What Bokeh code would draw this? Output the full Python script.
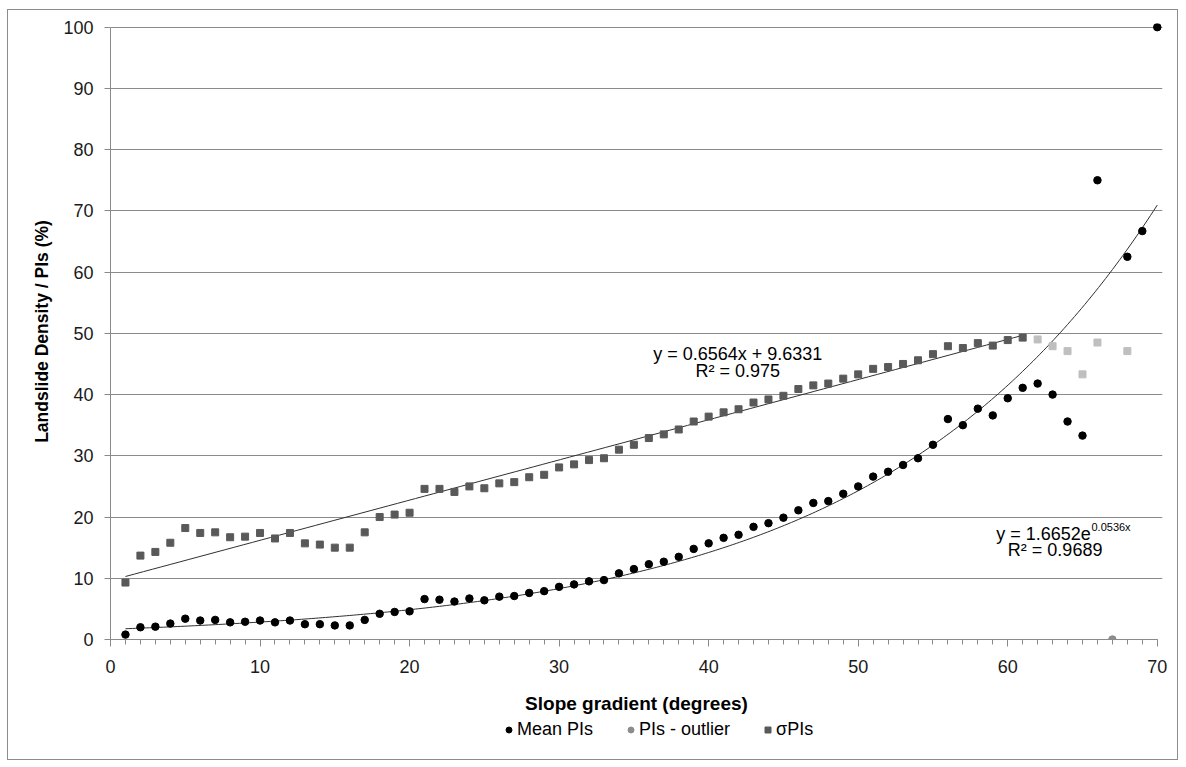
import numpy as np
from bokeh.plotting import figure
from bokeh.layouts import column
from bokeh.models import (ColumnDataSource, Legend, LegendItem, SingleIntervalTicker,
                          Range1d, Label)
from bokeh.embed import file_html
from bokeh.resources import INLINE

# ---- data ----
slope = list(range(1, 71))
mean_pis = [0.8, 2.0, 2.1, 2.6, 3.4, 3.1, 3.2, 2.8, 2.9, 3.1,
            2.8, 3.1, 2.5, 2.5, 2.3, 2.3, 3.2, 4.2, 4.5, 4.6,
            6.6, 6.5, 6.2, 6.7, 6.4, 7.0, 7.1, 7.6, 7.9, 8.6,
            9.0, 9.5, 9.7, 10.8, 11.5, 12.3, 12.7, 13.5, 14.8, 15.7,
            16.6, 17.1, 18.4, 19.0, 19.9, 21.1, 22.3, 22.6, 23.8, 25.0,
            26.6, 27.4, 28.5, 29.6, 31.8, 36.0, 35.0, 37.7, 36.6, 39.4,
            41.1, 41.8, 40.0, 35.6, 33.3, 75.0, None, 62.5, 66.7, 100.0]
outlier_x = [67]
outlier_y = [0.0]
sigma_x = list(range(1, 62))
sigma_pis = [9.3, 13.7, 14.3, 15.8, 18.2, 17.4, 17.5, 16.7, 16.8, 17.4,
             16.5, 17.4, 15.7, 15.5, 15.0, 15.0, 17.5, 20.0, 20.4, 20.7,
             24.6, 24.6, 24.1, 25.0, 24.7, 25.5, 25.7, 26.5, 26.9, 28.1,
             28.6, 29.3, 29.6, 31.0, 31.8, 32.9, 33.5, 34.3, 35.6, 36.4,
             37.1, 37.6, 38.7, 39.2, 39.8, 40.9, 41.5, 41.8, 42.6, 43.3,
             44.2, 44.5, 45.0, 45.6, 46.6, 47.9, 47.6, 48.4, 48.0, 48.9,
             49.3]
sigma_excl_x = [62, 63, 64, 65, 66, 68]
sigma_excl = [49.0, 47.9, 47.1, 43.3, 48.5, 47.1]

# trendline coefficients (as printed on the chart)
lin_a, lin_b = 0.6564, 9.6331
exp_a, exp_b = 1.6652, 0.0536

legend_labels = ["Mean PIs", "PIs - outlier", "σPIs"]

FONT = "Liberation Sans"
GRID = "#8a8a8a"
C_MEAN, C_OUT, C_SIG, C_SIG2 = "#000000", "#8c8c8c", "#595959", "#bfbfbf"

p = figure(width=1169, height=706, output_backend="svg", toolbar_location=None,
           x_range=Range1d(0, 70.35), y_range=Range1d(0, 100.6))
p.min_border_left = 102
p.min_border_right = 15
p.min_border_top = 13
p.min_border_bottom = 77
p.outline_line_color = None
p.background_fill_color = "white"
p.border_fill_color = "white"

# axes
p.xaxis.ticker = SingleIntervalTicker(interval=10, num_minor_ticks=10)
p.yaxis.ticker = SingleIntervalTicker(interval=10, num_minor_ticks=0)
p.xaxis.bounds = (0, 70)
p.yaxis.bounds = (0, 100)
for ax in (p.xaxis[0], p.yaxis[0]):
    ax.axis_line_color = GRID
    ax.major_tick_line_color = GRID
    ax.minor_tick_line_color = GRID
    ax.major_tick_in = 0
    ax.minor_tick_in = 0
    ax.minor_tick_out = 5
    ax.major_label_text_font = FONT
    ax.major_label_text_font_size = "18px"
    ax.major_label_text_color = "#1a1a1a"
    ax.axis_label_text_font = FONT
    ax.axis_label_text_font_style = "bold"
    ax.axis_label_text_color = "#000000"
p.xaxis.major_tick_out = 7
p.yaxis.major_tick_out = 6
p.xaxis.axis_label = "Slope gradient (degrees)"
p.yaxis.axis_label = "Landslide Density / PIs (%)"
p.xaxis.axis_label_text_font_size = "19px"
p.yaxis.axis_label_text_font_size = "17.5px"
p.xaxis.major_label_standoff = 13
p.yaxis.major_label_standoff = 11
p.xaxis.axis_label_standoff = 17
p.yaxis.axis_label_standoff = 8

p.xgrid.grid_line_color = None
p.ygrid.grid_line_color = GRID
p.ygrid.grid_line_width = 1

# trendlines
xl = np.linspace(sigma_x[0], sigma_x[-1], 100)
p.line(xl, lin_a * xl + lin_b, line_color="#303030", line_width=1)
xe = np.linspace(slope[0], slope[-1], 300)
p.line(xe, exp_a * np.exp(exp_b * xe), line_color="#303030", line_width=1)

# scatter series
src_mean = ColumnDataSource(dict(x=[s for s, v in zip(slope, mean_pis) if v is not None],
                                 y=[v for v in mean_pis if v is not None]))
p.scatter("x", "y", source=src_mean, marker="circle", size=7.5,
          fill_color=C_MEAN, line_color=C_MEAN)
p.scatter(outlier_x, outlier_y, marker="circle", size=7.5,
          fill_color=C_OUT, line_color=C_OUT)
p.scatter(sigma_x, sigma_pis, marker="square", size=7,
          fill_color=C_SIG, line_color=C_SIG)
p.scatter(sigma_excl_x, sigma_excl, marker="square", size=7,
          fill_color=C_SIG2, line_color=C_SIG2)

# equations
lab_kw = dict(text_font=FONT, text_font_size="18px", text_color="#000000",
              text_baseline="alphabetic")
p.add_layout(Label(x=41.95, y=46.7, text="y = 0.6564x + 9.6331", text_align="center", **lab_kw))
p.add_layout(Label(x=41.95, y=43.9, text="R² = 0.975", text_align="center", **lab_kw))
p.add_layout(Label(x=65.55, y=17.3, text="y = 1.6652e", text_align="right", **lab_kw))
p.add_layout(Label(x=65.6, y=18.3, text="0.0536x", text_align="left",
                   text_baseline="alphabetic", text_font=FONT, text_font_size="11px",
                   text_color="#000000"))
p.add_layout(Label(x=63.17, y=14.6, text="R² = 0.9689", text_align="center", **lab_kw))

# legend strip (separate small figure under the chart)
lg = figure(width=1169, height=43, output_backend="svg", toolbar_location=None,
            x_range=Range1d(0, 1), y_range=Range1d(0, 1),
            x_axis_type=None, y_axis_type=None)
lg.min_border_left = 0
lg.min_border_right = 0
lg.min_border_top = 0
lg.min_border_bottom = 0
lg.grid.visible = False
lg.outline_line_color = None
lg.background_fill_color = "white"
lg.border_fill_color = "white"
# legend-only renderers: one point placed outside the strip's visible range
e_mean = lg.scatter([-5], [-5], marker="circle", size=7, fill_color=C_MEAN, line_color=C_MEAN)
e_out = lg.scatter([-5], [-5], marker="circle", size=7, fill_color=C_OUT, line_color=C_OUT)
e_sig = lg.scatter([-5], [-5], marker="square", size=7, fill_color=C_SIG, line_color=C_SIG)
legend = Legend(items=[LegendItem(label=lab, renderers=[r])
                       for lab, r in zip(legend_labels, [e_mean, e_out, e_sig])],
                orientation="horizontal", location=(391, 19),
                label_text_font=FONT, label_text_font_size="18px",
                label_text_color="#000000", glyph_width=15, glyph_height=15,
                spacing=30, padding=0, margin=0, label_standoff=1,
                border_line_color=None, background_fill_alpha=0)
lg.add_layout(legend, "center")

layout = column(p, lg, spacing=0)
layout.styles = {"border": "1px solid #8c8c8c", "margin-left": "7px", "margin-top": "9px"}

open("out.html", "w").write(file_html(layout, INLINE))
